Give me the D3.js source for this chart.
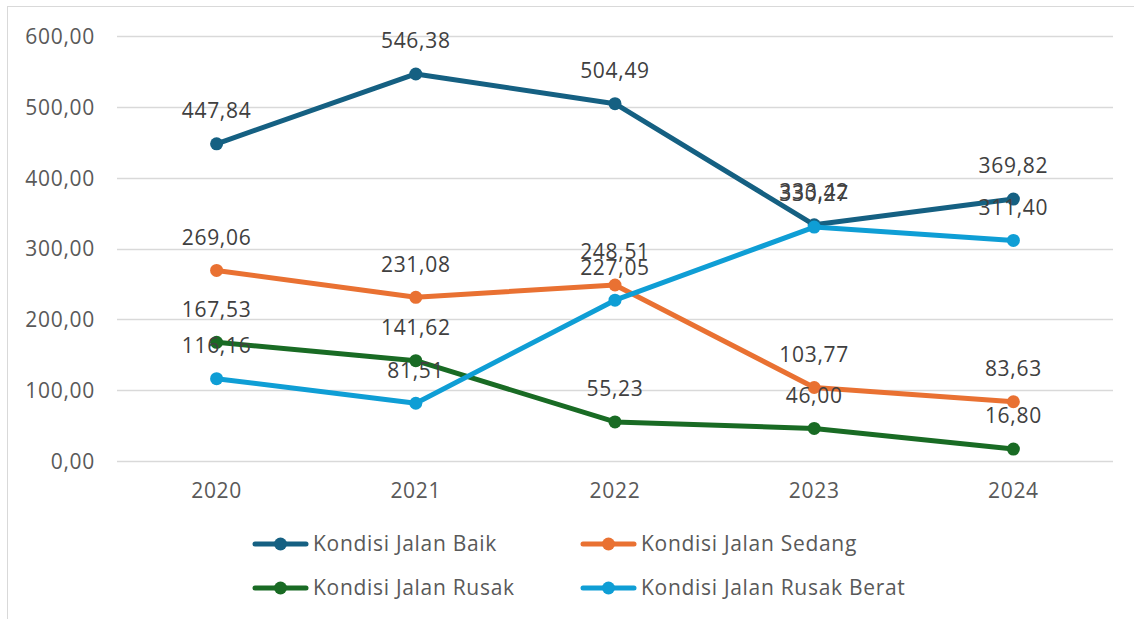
<!DOCTYPE html>
<html><head><meta charset="utf-8">
<script src="https://cdn.jsdelivr.net/npm/d3@7"></script>
<style>body{margin:0;background:#fff}svg{display:block}</style>
</head><body>
<script>
const years = ["2020","2021","2022","2023","2024"];
const seriesNames = ["Kondisi Jalan Baik","Kondisi Jalan Sedang","Kondisi Jalan Rusak","Kondisi Jalan Rusak Berat"];
const baik = [447.84, 546.38, 504.49, 333.42, 369.82];
const sedang = [269.06, 231.08, 248.51, 103.77, 83.63];
const rusak = [167.53, 141.62, 55.23, 46.00, 16.80];
const rusakBerat = [116.16, 81.51, 227.05, 330.27, 311.40];
const yTicks = [0, 100, 200, 300, 400, 500, 600];
const colors = ["#156082", "#E97132", "#196B24", "#0F9ED5"];

const W = 1134, H = 619;
const svg = d3.select("body").append("svg").attr("width", W).attr("height", H);
const font = "Aptos, 'Open Sans', sans-serif";
const fs = 21, ls = 0.7;

svg.append("rect").attr("x", 7.5).attr("y", 6.5).attr("width", 1200).attr("height", 700)
  .attr("fill", "none").attr("stroke", "#d9d9d9");

const x = d3.scaleBand().domain(years).range([117, 1113]);
const y = d3.scaleLinear().domain([0, 600]).range([461, 36]);
const fmt = v => d3.format(".2f")(v).replace(".", ",");

// gridlines
svg.append("g").selectAll("line").data(yTicks).join("line")
  .attr("x1", 117).attr("x2", 1113)
  .attr("y1", d => Math.round(y(d)) + 0.5).attr("y2", d => Math.round(y(d)) + 0.5)
  .attr("stroke", "#d9d9d9").attr("stroke-width", 1.5);

// y axis labels
const yAxis = d3.axisLeft(y).tickValues(yTicks).tickFormat(fmt).tickSize(0).tickPadding(0);
const gy = svg.append("g").attr("transform", "translate(95,0)").call(yAxis);
gy.select(".domain").remove();
gy.selectAll("text").attr("font-family", font).attr("font-size", fs).attr("fill", "#595959")
  .attr("letter-spacing", ls).attr("dy", "0.35em");

// x axis labels
const xAxis = d3.axisBottom(x).tickSize(0).tickPadding(0);
const gx = svg.append("g").attr("transform", "translate(0,491)").call(xAxis);
gx.select(".domain").remove();
gx.selectAll("text").attr("font-family", font).attr("font-size", fs).attr("fill", "#595959")
  .attr("letter-spacing", ls).attr("dy", "0.35em");

const data = [baik, sedang, rusak, rusakBerat];
const cx = d => x(d) + x.bandwidth() / 2;
const line = d3.line().x((d, i) => cx(years[i])).y(d => y(d));

data.forEach((vals, s) => {
  svg.append("path").datum(vals).attr("d", line).attr("fill", "none")
    .attr("stroke", colors[s]).attr("stroke-width", 5).attr("stroke-linejoin", "round").attr("stroke-linecap", "round");
  svg.append("g").selectAll("circle").data(vals).join("circle")
    .attr("cx", (d, i) => cx(years[i])).attr("cy", d => y(d)).attr("r", 6.5).attr("fill", colors[s]);
});
data.forEach((vals, s) => {
  svg.append("g").selectAll("text").data(vals).join("text")
    .attr("x", (d, i) => cx(years[i])).attr("y", d => y(d) - 33)
    .attr("text-anchor", "middle").attr("font-family", font).attr("font-size", fs)
    .attr("letter-spacing", ls).attr("fill", "#404040").attr("dy", "0.35em")
    .text(d => fmt(d));
});

// legend
const legPos = [[253, 544], [581, 544], [253, 588], [581, 588]];
seriesNames.forEach((n, s) => {
  const [lx, ly] = legPos[s];
  const g = svg.append("g").attr("transform", `translate(${lx},${ly})`);
  g.append("line").attr("x1", 2).attr("x2", 53).attr("y1", 0).attr("y2", 0)
    .attr("stroke", colors[s]).attr("stroke-width", 5).attr("stroke-linecap", "round");
  g.append("circle").attr("cx", 27.5).attr("cy", 0).attr("r", 6.5).attr("fill", colors[s]);
  g.append("text").attr("x", 60).attr("y", 0).attr("dy", "0.35em")
    .attr("font-family", font).attr("font-size", fs).attr("letter-spacing", ls)
    .attr("fill", "#595959").text(n);
});
</script>
</body></html>
